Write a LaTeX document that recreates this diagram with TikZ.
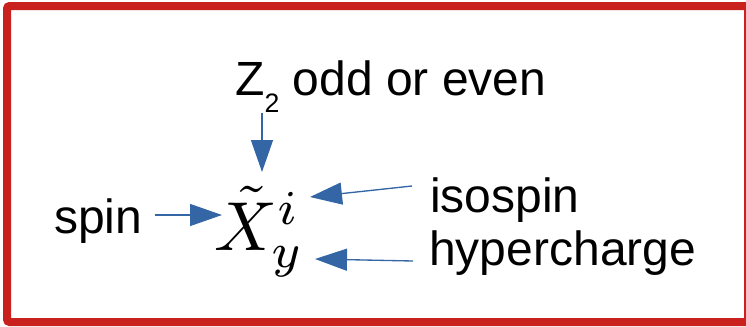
\documentclass[tikz,border=0pt]{standalone}
\usepackage{graphicx}
\usepackage{fontspec}
\setmainfont{Liberation Sans}
\usetikzlibrary{arrows.meta}
\definecolor{framered}{RGB}{201,33,30}
\definecolor{arrowblue}{RGB}{52,101,164}

\begin{document}
\begin{tikzpicture}[x=0.75pt, y=-0.75pt, >={Triangle[length=24pt,width=16.5pt]},
    lbl/.style={inner sep=0pt, anchor=base west, font=\fontsize{36}{40}\selectfont},
    pointer/.style={->, draw=arrowblue, fill=arrowblue, line width=1pt}]
    % Frame
    \useasboundingbox (0,0) rectangle (746,326);
    \draw[framered, line width=6pt, rounded corners=2pt] (7,6) rectangle (748,322);

    % Field symbol
    \node[inner sep=0pt, anchor=base west] (field) at (214,250) {\scalebox{5.2}{$\tilde{X}^i_y$}};

    % Labels
    \node[lbl] (parity) at (235,95) {Z\raisebox{-13pt}{\fontsize{20}{20}\selectfont 2} odd or even};
    \node[lbl] (isospin) at (430,212) {isospin};
    \node[lbl] (hyper) at (429,265) {hypercharge};
    \node[lbl] (spin) at (54,233) {spin};

    % Arrow ends
    \coordinate (parity-s) at (262,113);
    \coordinate (parity-e) at (262,172);
    \coordinate (isospin-s) at (412,186);
    \coordinate (isospin-e) at (310,197);
    \coordinate (hyper-s) at (413,261);
    \coordinate (hyper-e) at (315,259);
    \coordinate (spin-s) at (155,215);
    \coordinate (spin-e) at (222,215);

    % Arrows
    \draw[pointer] (parity-s) -- (parity-e);
    \draw[pointer] (isospin-s) -- (isospin-e);
    \draw[pointer] (hyper-s) -- (hyper-e);
    \draw[pointer] (spin-s) -- (spin-e);
\end{tikzpicture}
\end{document}
